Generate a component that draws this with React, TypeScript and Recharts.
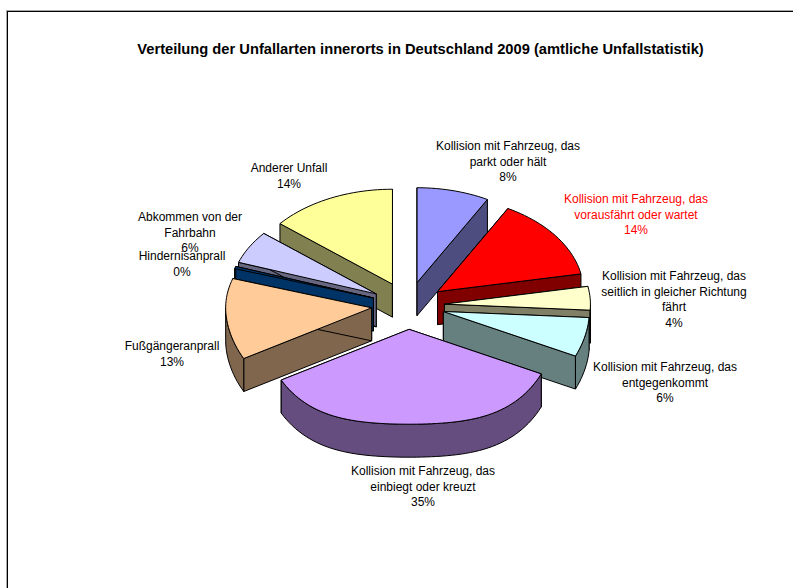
import React from "react";
import { PieChart, Pie } from "recharts";

const categories = [
  "Kollision mit Fahrzeug, das parkt oder hält",
  "Kollision mit Fahrzeug, das vorausfährt oder wartet",
  "Kollision mit Fahrzeug, das seitlich in gleicher Richtung fährt",
  "Kollision mit Fahrzeug, das entgegenkommt",
  "Kollision mit Fahrzeug, das einbiegt oder kreuzt",
  "Fußgängeranprall",
  "Hindernisanprall",
  "Abkommen von der Fahrbahn",
  "Anderer Unfall",
];
const shares = [8, 14, 4, 6, 35, 13, 0.4, 5.6, 14];
const shownPercent = ["8%", "14%", "4%", "6%", "35%", "13%", "0%", "6%", "14%"];
const fills = ["#9999FF", "#FF0000", "#FFFFCC", "#CCFFFF", "#CC99FF", "#FFCC99", "#003366", "#CCCCFF", "#FFFF99"];
const walls = ["#4D4D80", "#800000", "#808066", "#668080", "#664D80", "#80664D", "#003366", "#666680", "#808050"];
const labelLines = [
  ["Kollision mit Fahrzeug, das", "parkt oder hält"],
  ["Kollision mit Fahrzeug, das", "vorausfährt oder wartet"],
  ["Kollision mit Fahrzeug, das", "seitlich in gleicher Richtung", "fährt"],
  ["Kollision mit Fahrzeug, das", "entgegenkommt"],
  ["Kollision mit Fahrzeug, das", "einbiegt oder kreuzt"],
  ["Fußgängeranprall"],
  ["Hindernisanprall"],
  ["Abkommen von der", "Fahrbahn"],
  ["Anderer Unfall"],
];
const TITLE = "Verteilung der Unfallarten innerorts in Deutschland 2009 (amtliche Unfallstatistik)";

const data = categories.map((name, i) => ({ name, value: shares[i], index: i }));

const TILT = 0.65;
const EXPLODE = 0.25;
const DEPTH = 33;
const WARP = 7;
const FONT = "'Liberation Sans', Arial, sans-serif";
const layers = [[8], [7], [6], [0, 1, 2, 3, 5, 4]];
const labelAnchors = [
  [508, 146], [636, 199], [674, 276], [665, 367], [423, 471], [172, 346], [182, 256], [190, 217], [289, 168],
];
const LINE = 15.7;

function sliceShape(visible: number[]) {
  return (p: any) => {
    const idx = p.index ?? p.payload?.index;
    if (!visible.includes(idx)) return <g />;
    const { cx, cy, outerRadius: R, startAngle, endAngle, fill } = p;
    const rad = (a: number) => (a * Math.PI) / 180;
    const mid = (startAngle + endAngle) / 2;
    const ox = cx + R * EXPLODE * Math.cos(rad(mid));
    const oy = cy - R * EXPLODE * TILT * Math.sin(rad(mid));
    const pt = (a: number) => {
      const s = Math.sin(rad(a));
      const d = Math.sin(rad(2 * a));
      const warp = s < 0 ? WARP * d * d : 0;
      return [ox + R * Math.cos(rad(a)), oy - R * TILT * s + warp];
    };
    const [sx, sy] = pt(startAngle);
    const [ex, ey] = pt(endAngle);
    const lo = Math.min(startAngle, endAngle), hi = Math.max(startAngle, endAngle);
    const rim = (from: number, to: number, dy = 0) => {
      const n = Math.max(2, Math.ceil(Math.abs(to - from) / 2));
      const out: string[] = [];
      for (let k = 0; k <= n; k++) {
        const [x, y] = pt(from + ((to - from) * k) / n);
        out.push(`${x.toFixed(2)},${(y + dy).toFixed(2)}`);
      }
      return out;
    };
    const top = `M${ox},${oy}L${rim(startAngle, endAngle).join("L")}Z`;
    const radial = (x: number, y: number) =>
      `M${ox},${oy}L${x},${y}L${x},${y + DEPTH}L${ox},${oy + DEPTH}Z`;
    const normal = (a: number) => ((a % 360) + 360) % 360;
    const arcs: [number, number][] = [];
    for (const [a, b] of [[-360, -180], [-180, 0], [180, 360]]) {
      const from = Math.max(lo, a), to = Math.min(hi, b);
      if (to > from && normal((from + to) / 2) > 180) arcs.push([to, from]);
    }
    const wall = walls[idx];
    return (
      <g>
        <path d={radial(sx, sy)} fill={wall} stroke="#000" strokeWidth={1} />
        <path d={radial(ex, ey)} fill={wall} stroke="#000" strokeWidth={1} />
        {arcs.map(([a, b], k) => (
          <path
            key={k}
            d={`M${rim(a, b).join("L")}L${rim(b, a, DEPTH).join("L")}Z`}
            fill={wall}
            stroke="#000"
            strokeWidth={1}
          />
        ))}
        <path d={top} fill={fill} stroke="#000" strokeWidth={1} />
      </g>
    );
  };
}

function renderLabel(p: any) {
  const idx = p.index;
  const [x, y] = labelAnchors[idx];
  const lines = [...labelLines[idx], shownPercent[idx]];
  return (
    <text
      key={idx}
      x={x}
      y={y}
      textAnchor="middle"
      dominantBaseline="central"
      fontFamily={FONT}
      fontSize={12}
      fill={idx === 1 ? "#FF0000" : "#000000"}
    >
      {lines.map((l, k) => (
        <tspan key={k} x={x} y={y + k * LINE}>
          {l}
        </tspan>
      ))}
    </text>
  );
}

export default function App() {
  return (
    <div style={{ position: "absolute", left: 0, top: 0, width: 793, height: 588, overflow: "hidden", background: "#fff" }}>
      <div style={{ position: "absolute", left: 6, top: 10, width: 900, height: 700, border: "1px solid #aaa", boxSizing: "border-box" }} />
      <div style={{ position: "absolute", left: 7, top: 11, width: 900, height: 700, border: "1px solid #000", boxSizing: "border-box" }} />
      <div style={{ position: "absolute", left: 0, top: 41, width: 841, textAlign: "center", fontFamily: FONT, fontWeight: 700, fontSize: 14.7, color: "#000", whiteSpace: "nowrap" }}>
        {TITLE}
      </div>
      <div style={{ position: "absolute", left: 0, top: 0 }}>
        <PieChart width={793} height={588} margin={{ top: 0, right: 0, bottom: 0, left: 0 }}>
          {layers.map((layer, i) => (
            <Pie
              key={i}
              data={data}
              dataKey="value"
              nameKey="name"
              cx={408}
              cy={305.6}
              outerRadius={146}
              startAngle={90}
              endAngle={-270}
              paddingAngle={0}
              isAnimationActive={false}
              fill="#8884d8"
              shape={(p: any) => sliceShape(layer)({ ...p, fill: fills[p.index] })}
              label={i === layers.length - 1 ? renderLabel : false}
              labelLine={false}
            />
          ))}
        </PieChart>
      </div>
    </div>
  );
}
